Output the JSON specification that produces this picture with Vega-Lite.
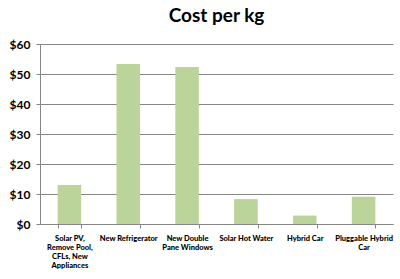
{
  "$schema": "https://vega.github.io/schema/vega-lite/v6.json",
  "autosize": "none",
  "width": 353,
  "height": 180,
  "padding": {"left": 40, "top": 44, "right": 7, "bottom": 55},
  "background": "white",
  "title": {"text": "Cost per kg", "font": "Lato", "fontSize": 19, "fontWeight": "bold", "color": "#000000", "anchor": "middle", "offset": 12},
  "data": {"values": [
    {"item": "Solar PV, Remove Pool, CFLs, New Appliances", "cost": 13},
    {"item": "New Refrigerator", "cost": 53.3},
    {"item": "New Double Pane Windows", "cost": 52.3},
    {"item": "Solar Hot Water", "cost": 8.3},
    {"item": "Hybrid Car", "cost": 2.8},
    {"item": "Pluggable Hybrid Car", "cost": 9.1}
  ]},
  "mark": {"type": "bar", "color": "#BBD49A"},
  "encoding": {
    "x": {"field": "item", "type": "nominal", "sort": null,
      "scale": {"paddingInner": 0.6, "paddingOuter": 0.3},
      "axis": {"title": null, "labelAngle": 0, "labelFont": "Lato", "labelFontSize": 7.5, "labelFontWeight": 900, "labelColor": "#000000", "labelLineHeight": 9.3,
        "labelExpr": "datum.value == 'Solar PV, Remove Pool, CFLs, New Appliances' ? ['Solar PV,', 'Remove Pool,', 'CFLs, New', 'Appliances'] : datum.value == 'New Double Pane Windows' ? ['New Double', 'Pane Windows'] : datum.value == 'Pluggable Hybrid Car' ? ['Pluggable Hybrid', 'Car'] : datum.value",
        "labelPadding": 6, "tickBand": "extent", "ticks": true, "tickColor": "#868686", "tickSize": 4, "domainColor": "#868686", "labelBaseline": "top"}},
    "y": {"field": "cost", "type": "quantitative",
      "scale": {"domain": [0, 60]},
      "axis": {"title": null, "values": [0, 10, 20, 30, 40, 50, 60], "format": "$,.0f", "labelFont": "Lato", "labelFontSize": 12, "labelFontWeight": "bold", "labelColor": "#000000", "labelPadding": 6, "tickColor": "#868686", "tickSize": 4, "domainColor": "#868686", "gridColor": "#868686", "labelFlush": false}}
  },
  "config": {"view": {"stroke": null}, "axisX": {"grid": false}}
}
